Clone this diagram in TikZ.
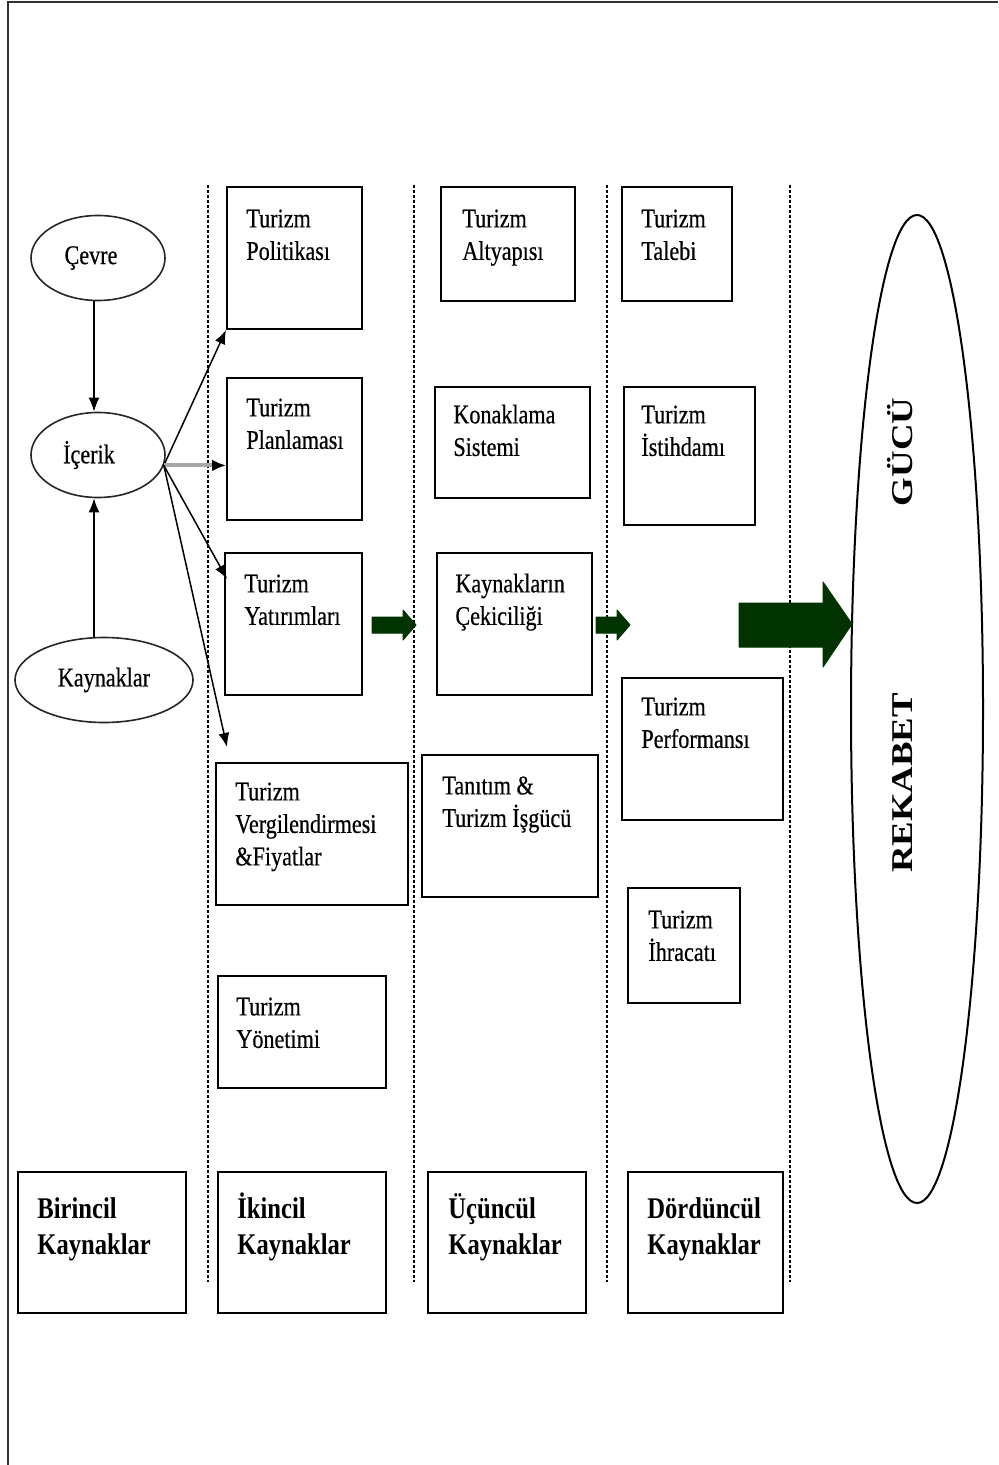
\documentclass[tikz,border=0pt]{standalone}
\usepackage{graphicx}
\usepackage{fontspec}
\setmainfont{Liberation Serif}[FakeStretch=0.82, UprightFeatures={FakeBold=0.5}]
\newfontfamily\rotfont{Liberation Serif}
\usetikzlibrary{arrows.meta,shapes.geometric,fit,calc}
\definecolor{arrowgreen}{RGB}{0,51,0}
\definecolor{framegray}{RGB}{50,50,50}

\tikzset{
  boxline/.style={draw, line width=1pt, inner sep=0pt},
  boxtext/.style={anchor=north west, inner sep=0pt, align=left,
    font=\fontsize{13.5pt}{16.25pt}\selectfont},
  headtext/.style={anchor=north west, inner sep=0pt, align=left,
    font=\fontsize{15pt}{18pt}\selectfont\bfseries},
  oval/.style={draw=black!85, ellipse, line width=0.8pt, inner sep=0pt,
    font=\fontsize{13.5pt}{16.25pt}\selectfont},
  link/.style={line width=0.75pt, -{Latex[length=7pt,width=5.5pt]}},
  sepline/.style={line width=0.75pt, dash pattern=on 1.5pt off 1pt},
  block/.style={fill=arrowgreen, draw=arrowgreen, line width=0.5pt, line join=round},
  sidetext/.style={rotate=90, anchor=base, inner sep=0pt,
    font=\rotfont\bfseries\fontsize{18.4pt}{20pt}\selectfont}
}

% box: name, x1, y1, x2, y2, text x, first baseline y, text
\newcommand\mybox[8]{%
  \node[boxline, fit={(#2,#3) (#4,#5)}] (#1) {};
  \node[boxtext] (#1-t) at (#6,#7-28) {\rule{0pt}{14pt}#8};
}
\newcommand\headbox[8]{%
  \node[boxline, fit={(#2,#3) (#4,#5)}] (#1) {};
  \node[headtext] (#1-t) at (#6,#7-28) {\rule{0pt}{14pt}#8};
}

\begin{document}
\begin{tikzpicture}[x=0.5pt, y=-0.5pt]
\useasboundingbox (0,0) rectangle (998,1465);

% page frame
\draw[line width=1.2pt, framegray] (8,1465) -- (8,2) -- (998,2);

% column separators
\foreach \cx in {208,414,607,790}
  \draw[sepline] (\cx,185) -- (\cx,1282);

% left-hand ellipses
\node[oval, minimum width=67pt, minimum height=42.5pt] (cev) at (98,258) {Çevre\kern7pt};
\node[oval, minimum width=67pt, minimum height=42.5pt] (ic) at (98,455) {İçerik\kern9pt};
\node[oval, minimum width=89pt, minimum height=42.5pt] (kay) at (104,680) {Kaynaklar};

% secondary resources
\mybox{pol}{227}{187}{362}{329}{246}{227}{Turizm\\Politikası}
\mybox{pla}{227}{378}{362}{520}{246}{416}{Turizm\\Planlaması}
\mybox{yat}{225}{553}{362}{695}{244}{592}{Turizm\\Yatırımları}
\mybox{ver}{216}{763}{408}{905}{235}{800}{Turizm\\Vergilendirmesi\\\&Fiyatlar}
\mybox{yon}{218}{976}{386}{1088}{236}{1015}{Turizm\\Yönetimi}

% tertiary resources
\mybox{alt}{441}{187}{575}{301}{462}{227}{Turizm\\Altyapısı}
\mybox{kon}{435}{387}{590}{498}{453}{423}{Konaklama\\Sistemi}
\mybox{cek}{437}{553}{592}{695}{455}{592}{Kaynakların\\Çekiciliği}
\mybox{tan}{422}{755}{598}{897}{442}{794}{Tanıtım \&\\Turizm İşgücü}

% quaternary resources
\mybox{tal}{622}{187}{732}{301}{641}{227}{Turizm\\Talebi}
\mybox{ist}{624}{387}{755}{525}{641}{423}{Turizm\\İstihdamı}
\mybox{per}{622}{678}{783}{820}{641}{715}{Turizm\\Performansı}
\mybox{ihr}{628}{888}{740}{1003}{648}{928}{Turizm\\İhracatı}

% column headings
\headbox{b1}{18}{1172}{186}{1313}{37}{1218}{Birincil\\Kaynaklar}
\headbox{b2}{218}{1172}{386}{1313}{237}{1218}{İkincil\\Kaynaklar}
\headbox{b3}{428}{1172}{586}{1313}{448}{1218}{Üçüncül\\Kaynaklar}
\headbox{b4}{628}{1172}{783}{1313}{647}{1218}{Dördüncül\\Kaynaklar}

% competitiveness ellipse
\node[draw, ellipse, line width=1pt, inner sep=0pt,
      minimum width=66pt, minimum height=494pt] (rek) at (917,709) {};
\node[sidetext] (guc) at (912,452) {\scalebox{1}[0.82]{GÜCÜ}};
\node[sidetext] (rkb) at (912,783) {\scalebox{1}[0.82]{REKABET}};

% connectors between the ellipses
\draw[link] ($(cev.south)+(-4,0)$) -- ($(ic.north)+(-4,0)$);
\draw[link] ($(ic.south |- kay.north)+(-4,0)$) -- ($(ic.south)+(-4,0)$);

% connectors from İçerik to the secondary resources
\coordinate (ico) at (ic.-9);
\draw[link] (ico) -- (pol.south west);
\draw[line width=2pt, black!35, -{Latex[length=7pt,width=6pt,color=black]}]
  (ico) -- (ico -| pla.west);
\draw[link] (ico) -- ($(yat.north west)+(3,27)$);
\draw[link] (ico) -- ($(ver.north west)+(12,-15)$);

% block arrows between the columns
\fill[block] (372,617) -- (403,617) -- (403,610) -- (416,625)
  -- (403,640) -- (403,633) -- (372,633) -- cycle;
\fill[block] (596,617) -- (617,617) -- (617,610) -- (630,625)
  -- (617,640) -- (617,633) -- (596,633) -- cycle;
\fill[block] (739,603) -- (823,603) -- (823,582) -- (852,624)
  -- (823,667) -- (823,647) -- (739,647) -- cycle;
\end{tikzpicture}
\end{document}
